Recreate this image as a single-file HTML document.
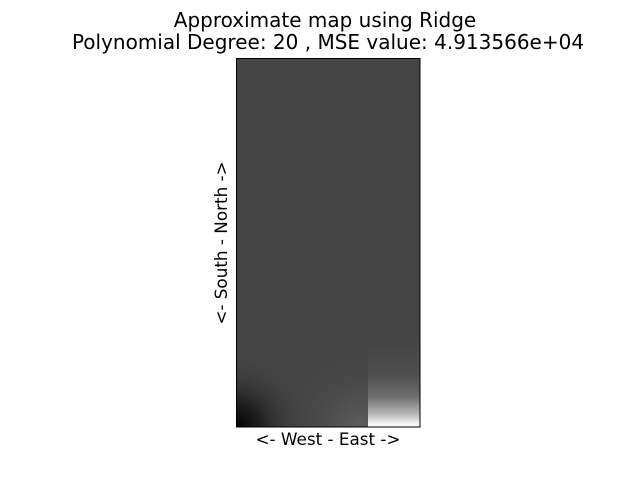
<!DOCTYPE html>
<html><head><meta charset="utf-8"><style>
html,body{margin:0;padding:0;background:#fff;width:640px;height:480px;overflow:hidden}
svg{display:block;font-family:"DejaVu Sans","Liberation Sans",sans-serif}
</style></head><body>
<svg width="640" height="480" viewBox="0 0 640 480">
<defs>
<radialGradient id="dark" cx="237" cy="427" r="75" gradientUnits="userSpaceOnUse">
<stop offset="0" stop-color="#000" stop-opacity="1"/>
<stop offset="0.3" stop-color="#111" stop-opacity="0.75"/>
<stop offset="0.7" stop-color="#333" stop-opacity="0.3"/>
<stop offset="1" stop-color="#444" stop-opacity="0"/>
</radialGradient>
<radialGradient id="midlight" cx="360" cy="427" r="80" gradientUnits="userSpaceOnUse">
<stop offset="0" stop-color="#5e5e5e" stop-opacity="1"/>
<stop offset="0.5" stop-color="#4f4f4f" stop-opacity="0.6"/>
<stop offset="1" stop-color="#444" stop-opacity="0"/>
</radialGradient>
<linearGradient id="bright" x1="0" y1="340" x2="0" y2="427" gradientUnits="userSpaceOnUse">
<stop offset="0" stop-color="#444"/>
<stop offset="0.4" stop-color="#4e4e4e"/>
<stop offset="0.65" stop-color="#6e6e6e"/>
<stop offset="0.85" stop-color="#b5b5b5"/>
<stop offset="0.95" stop-color="#f0f0f0"/>
<stop offset="1" stop-color="#ffffff"/>
</linearGradient>
</defs>
<text x="325" y="27" text-anchor="middle" font-size="20">Approximate map using Ridge</text>
<text x="328" y="49" text-anchor="middle" font-size="20">Polynomial Degree: 20 , MSE value: 4.913566e+04</text>
<g>
<rect x="237" y="59" width="183" height="368" fill="#444"/>
<rect x="237" y="330" width="131" height="97" fill="url(#midlight)"/>
<rect x="237" y="330" width="131" height="97" fill="url(#dark)"/>
<rect x="368" y="330" width="52" height="97" fill="url(#bright)"/>
</g>
<rect x="236.5" y="58.5" width="183.5" height="368.5" fill="none" stroke="#000" stroke-width="1"/>
<text x="328" y="445" text-anchor="middle" font-size="16.8">&lt;- West - East -&gt;</text>
<text x="0" y="0" transform="translate(227,243) rotate(-90)" text-anchor="middle" font-size="16.8">&lt;- South - North -&gt;</text>
</svg>
</body></html>
